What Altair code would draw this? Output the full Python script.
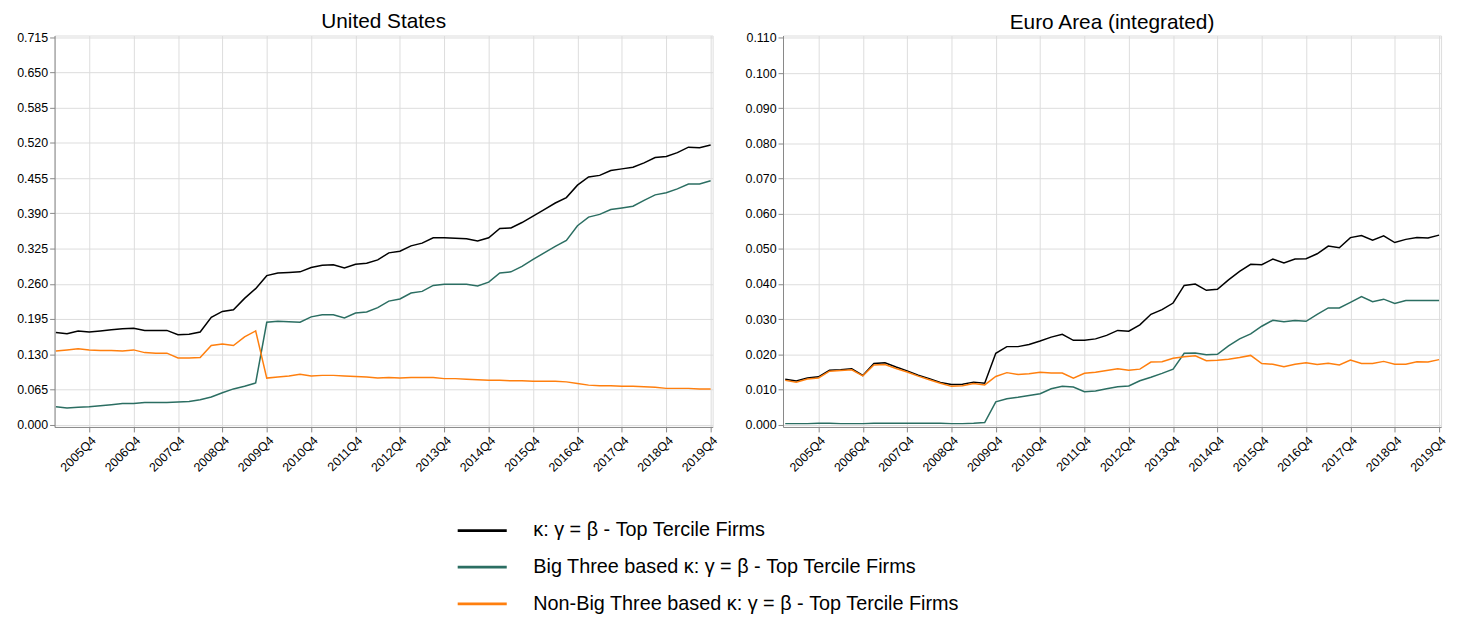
import altair as alt
import pandas as pd

start_year = 2005
n_q = 60

series_names = [
    "κ: γ = β - Top Tercile Firms",
    "Big Three based κ: γ = β - Top Tercile Firms",
    "Non-Big Three based κ: γ = β - Top Tercile Firms",
]
series_colors = ["#000000", "#2b6e62", "#ff7f0e"]

us_total = [0.170, 0.168, 0.173, 0.171, 0.173, 0.175, 0.177, 0.178, 0.174, 0.174,
            0.174, 0.166, 0.167, 0.171, 0.198, 0.209, 0.212, 0.233, 0.251, 0.275,
            0.280, 0.281, 0.282, 0.290, 0.294, 0.295, 0.289, 0.296, 0.298, 0.304,
            0.317, 0.320, 0.330, 0.335, 0.345, 0.345, 0.344, 0.343, 0.339, 0.345,
            0.362, 0.363, 0.373, 0.385, 0.397, 0.409, 0.419, 0.442, 0.457, 0.460,
            0.469, 0.472, 0.475, 0.483, 0.493, 0.495, 0.502, 0.512, 0.511, 0.516]
us_big3 = [0.033, 0.031, 0.032, 0.033, 0.035, 0.037, 0.039, 0.039, 0.041, 0.041,
           0.041, 0.042, 0.043, 0.046, 0.051, 0.059, 0.066, 0.071, 0.077, 0.189,
           0.191, 0.190, 0.189, 0.199, 0.203, 0.203, 0.197, 0.206, 0.208, 0.216,
           0.228, 0.232, 0.243, 0.246, 0.257, 0.259, 0.259, 0.259, 0.256, 0.263,
           0.280, 0.282, 0.292, 0.305, 0.317, 0.329, 0.340, 0.367, 0.383, 0.388,
           0.397, 0.400, 0.403, 0.414, 0.424, 0.428, 0.435, 0.444, 0.444, 0.450]
us_nonbig3 = [0.136, 0.138, 0.140, 0.138, 0.137, 0.137, 0.136, 0.138, 0.133, 0.132,
              0.132, 0.123, 0.123, 0.124, 0.146, 0.149, 0.146, 0.162, 0.173, 0.086,
              0.088, 0.090, 0.093, 0.090, 0.091, 0.091, 0.090, 0.089, 0.088, 0.086,
              0.087, 0.086, 0.087, 0.087, 0.087, 0.085, 0.085, 0.084, 0.083, 0.082,
              0.082, 0.081, 0.081, 0.080, 0.080, 0.080, 0.079, 0.076, 0.073, 0.072,
              0.072, 0.071, 0.071, 0.070, 0.069, 0.067, 0.067, 0.067, 0.066, 0.066]

ea_total = [0.0129, 0.0124, 0.0133, 0.0136, 0.0155, 0.0156, 0.0159, 0.0140, 0.0174, 0.0176,
            0.0164, 0.0153, 0.0141, 0.0131, 0.0120, 0.0114, 0.0115, 0.0121, 0.0118, 0.0203,
            0.0222, 0.0222, 0.0228, 0.0238, 0.0249, 0.0257, 0.0240, 0.0240, 0.0244, 0.0254,
            0.0268, 0.0266, 0.0284, 0.0314, 0.0327, 0.0346, 0.0396, 0.0400, 0.0382, 0.0385,
            0.0412, 0.0436, 0.0456, 0.0455, 0.0471, 0.0460, 0.0471, 0.0472, 0.0486, 0.0508,
            0.0503, 0.0532, 0.0538, 0.0525, 0.0537, 0.0518, 0.0527, 0.0532, 0.0531, 0.0539]
ea_big3 = [0.0003, 0.0003, 0.0003, 0.0004, 0.0004, 0.0003, 0.0003, 0.0003, 0.0004, 0.0004,
           0.0004, 0.0004, 0.0004, 0.0004, 0.0004, 0.0003, 0.0003, 0.0004, 0.0006, 0.0065,
           0.0074, 0.0078, 0.0083, 0.0088, 0.0102, 0.0109, 0.0107, 0.0094, 0.0096, 0.0102,
           0.0108, 0.0110, 0.0125, 0.0135, 0.0146, 0.0158, 0.0203, 0.0204, 0.0199, 0.0200,
           0.0224, 0.0244, 0.0258, 0.0280, 0.0297, 0.0293, 0.0296, 0.0294, 0.0314, 0.0332,
           0.0332, 0.0348, 0.0364, 0.0350, 0.0357, 0.0345, 0.0353, 0.0353, 0.0353, 0.0353]
ea_nonbig3 = [0.0126, 0.0121, 0.0130, 0.0133, 0.0152, 0.0154, 0.0156, 0.0139, 0.0170, 0.0171,
              0.0160, 0.0150, 0.0138, 0.0128, 0.0118, 0.0109, 0.0111, 0.0117, 0.0113, 0.0137,
              0.0148, 0.0143, 0.0145, 0.0149, 0.0147, 0.0147, 0.0132, 0.0146, 0.0149, 0.0154,
              0.0159, 0.0155, 0.0158, 0.0178, 0.0179, 0.0189, 0.0193, 0.0196, 0.0182, 0.0183,
              0.0186, 0.0191, 0.0197, 0.0174, 0.0172, 0.0165, 0.0172, 0.0176, 0.0171, 0.0175,
              0.0170, 0.0184, 0.0174, 0.0174, 0.0180, 0.0172, 0.0172, 0.0179, 0.0178, 0.0185]

us_ticks = [0.0, 0.065, 0.130, 0.195, 0.260, 0.325, 0.390, 0.455, 0.520, 0.585, 0.650, 0.715]
ea_ticks = [0.0, 0.010, 0.020, 0.030, 0.040, 0.050, 0.060, 0.070, 0.080, 0.090, 0.100, 0.110]
q4_ticks = list(range(3, n_q, 4))

FONT = "Liberation Sans"


def make_df(vals_list):
    rows = []
    for name, vals in zip(series_names, vals_list):
        for i, v in enumerate(vals):
            rows.append({"q": i, "value": v, "series": name})
    return pd.DataFrame(rows)


def panel(df, title, ticks, ydomain, xdomain, legend):
    color = alt.Color(
        "series:N",
        scale=alt.Scale(domain=series_names, range=series_colors),
        sort=series_names,
        legend=legend,
        title=None,
    )
    return alt.Chart(df, title=alt.TitleParams(title, fontSize=21, font=FONT,
                                               fontWeight="normal", offset=-1,
                                               color="#000")).mark_line(
        strokeWidth=1.5
    ).encode(
        x=alt.X(
            "q:Q",
            scale=alt.Scale(domain=xdomain, nice=False, zero=False),
            axis=alt.Axis(
                values=q4_ticks,
                labelExpr="toString(2005 + floor(datum.value / 4)) + 'Q4'",
                labelAngle=-45,
                title=None,
                labelFontSize=12.5,
                labelOverlap=False,
            ),
        ),
        y=alt.Y(
            "value:Q",
            scale=alt.Scale(domain=ydomain, nice=False, zero=False),
            axis=alt.Axis(values=ticks, format=".3f", title=None, labelFontSize=12.5),
        ),
        color=color,
        order="q:Q",
    ).properties(width=664, height=395)


us_df = make_df([us_total, us_big3, us_nonbig3])
ea_df = make_df([ea_total, ea_big3, ea_nonbig3])

legend = alt.Legend(
    orient="none",
    legendX=405,
    legendY=473,
    direction="vertical",
    symbolType="stroke",
    symbolSize=2450,
    symbolStrokeWidth=2.8,
    labelFontSize=20,
    labelFont=FONT,
    labelColor="#000",
    labelLimit=700,
    labelOffset=25,
    rowPadding=0,
)

left = panel(us_df, "United States", us_ticks, [-0.0042, 0.7181], [-0.12, 59.18], legend)
right = panel(ea_df, "Euro Area (integrated)", ea_ticks, [-0.00065, 0.11068], [-0.2, 59.18], legend)

chart = alt.hconcat(left, right, spacing=24).properties(
    padding={"left": 8, "top": 0, "right": 0, "bottom": 0}
).configure_view(
    stroke="#000", strokeWidth=1
).configure_axis(
    gridColor="#e3e3e3",
    domainColor="#333",
    tickColor="#333",
    labelColor="#222",
    labelFont=FONT,
    tickSize=8,
    labelPadding=3,
).configure(font=FONT)

chart.save("out.html", embed_options={"renderer": "svg", "actions": False})
